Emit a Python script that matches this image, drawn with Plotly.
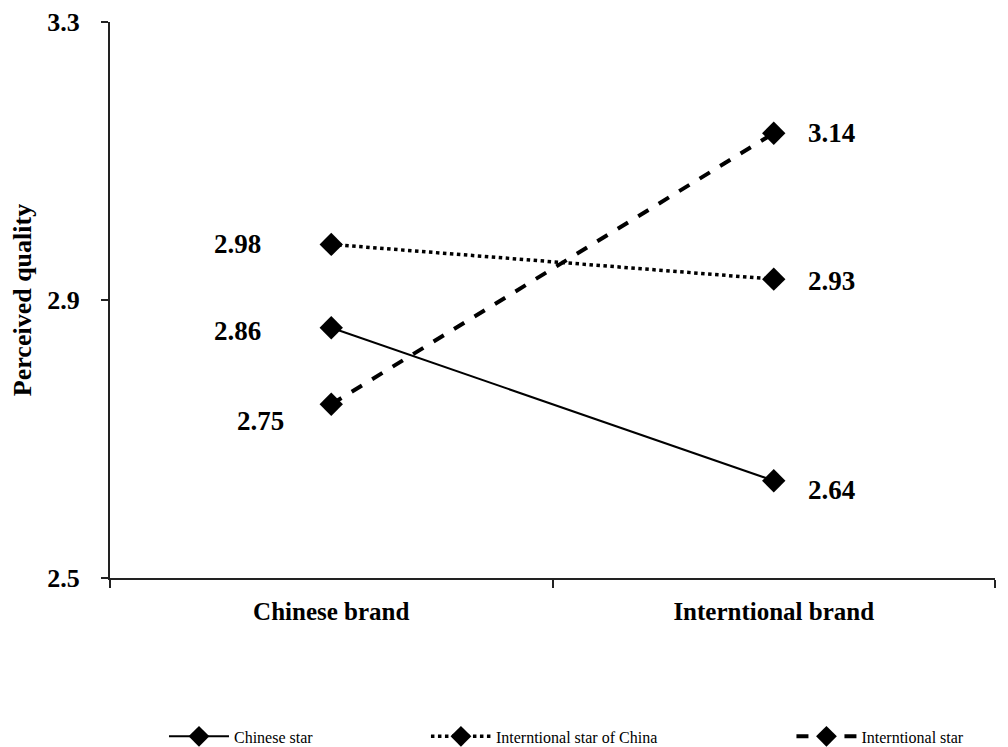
import plotly.graph_objects as go

# Brand origin categories and perceived-quality means per endorser group
brands = ["Chinese brand", "Interntional brand"]
chinese_star = [2.86, 2.64]
intl_star_of_china = [2.98, 2.93]
intl_star = [2.75, 3.14]

series = [
    ("Chinese star", chinese_star, "solid", 2, "legend"),
    ("Interntional star of China", intl_star_of_china, "dot", 3.5, "legend2"),
    ("Interntional star", intl_star, "dash", 4, "legend3"),
]

FONT = "Liberation Serif"

fig = go.Figure()
for name, vals, dash, width, leg in series:
    fig.add_trace(go.Scatter(
        x=brands, y=vals, name=name, mode="lines+markers",
        line=dict(color="black", dash=dash, width=width),
        marker=dict(symbol="diamond", size=18, color="black"),
        legend=leg,
    ))

# Value labels beside each point (left side right-aligned, right side left-aligned)
label_offsets = {
    "Chinese star": [(-68, -3), (32, -9)],
    "Interntional star of China": [(-68, 0), (32, -2)],
    "Interntional star": [(-45, -17), (32, 0)],
}
for name, vals, _, _, _ in series:
    for i, v in enumerate(vals):
        dx, dy = label_offsets[name][i]
        fig.add_annotation(
            x=brands[i], y=v, text=f"{v:.2f}", showarrow=False,
            xanchor="right" if i == 0 else "left",
            xshift=dx, yshift=dy,
            font=dict(family=FONT, size=27, color="black", weight="bold"),
        )

legend_style = dict(
    orientation="h", y=-0.285, yanchor="middle", xanchor="left",
    font=dict(family=FONT, size=16, color="black"),
    itemwidth=60, bgcolor="rgba(0,0,0,0)",
)

fig.update_layout(
    width=1008, height=747,
    margin=dict(l=110, r=13, t=22, b=169, autoexpand=False),
    paper_bgcolor="white", plot_bgcolor="white",
    font=dict(family=FONT, color="black"),
    showlegend=True,
    legend=dict(x=0.061, **legend_style),
    legend2=dict(x=0.357, **legend_style),
    legend3=dict(x=0.770, **legend_style),
)

fig.update_xaxes(
    type="category", range=[-0.5, 1.5],
    showline=True, linecolor="#222", linewidth=2,
    ticks="outside", tickson="boundaries", ticklen=8, tickcolor="#222", tickwidth=1.5,
    ticklabelstandoff=10,
    tickfont=dict(family=FONT, size=25, color="black", weight="bold"),
    showgrid=False, zeroline=False,
)
fig.update_yaxes(
    range=[2.5, 3.3], tickvals=[2.5, 2.9, 3.3], ticktext=["2.5", "2.9", "3.3"],
    showline=True, linecolor="#222", linewidth=2,
    ticks="outside", ticklen=7, tickcolor="#222", tickwidth=1.5,
    ticklabelstandoff=16,
    tickfont=dict(family=FONT, size=26, color="black", weight="bold"),
    title=dict(text="Perceived quality", standoff=8,
               font=dict(family=FONT, size=26, color="black", weight="bold")),
    showgrid=False, zeroline=False,
)

fig.write_html("out.html")
